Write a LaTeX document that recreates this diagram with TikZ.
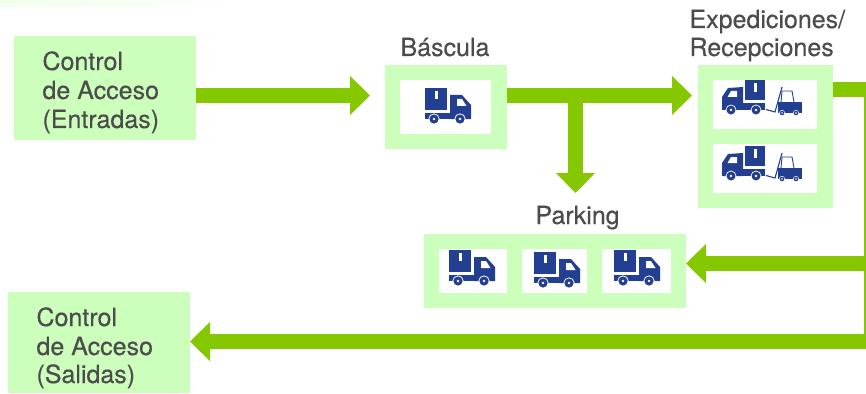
\documentclass[tikz,border=0pt]{standalone}
\usepackage{fontspec}
\setmainfont[FakeBold=0.35,AutoFakeBold=false]{TeX Gyre Heros}
\usetikzlibrary{arrows.meta}
\definecolor{boxgreen}{HTML}{CCFFBB}
\definecolor{flowgreen}{HTML}{85C800}
\definecolor{navy}{HTML}{233F91}
\definecolor{ink}{HTML}{4C4C4C}
\tikzset{
  panel/.style={fill=boxgreen,draw=none,inner sep=0pt,outer sep=0pt},
  slotbox/.style={fill=white,draw=none,inner sep=0pt,outer sep=0pt},
  lbl/.style={text=ink,inner sep=0pt,outer sep=0pt,align=left,font=\fontsize{25}{29}\selectfont},
  flow/.style={draw=flowgreen,line width=15pt,line cap=butt},
  flowtip/.style={flow,-{Triangle[length=20pt,width=38pt]}},
  truckright/.pic={
    \fill[navy] (0,0) rectangle (22,22);
    \fill[white] (10,3) rectangle (13,11);
    \fill[navy] (0,25) rectangle (25,31);
    \fill[navy] (25,7) -- (37,7) -- (46,17) -- (46,31) -- (25,31) -- cycle;
    \fill[white] (32,11) -- (37,11) -- (41.5,18) -- (32,18) -- cycle;
    \foreach \wx in {9,35}{
      \fill[white] (\wx,31) circle (5.6);
      \fill[navy] (\wx,31) circle (4.6);
      \fill[white] (\wx,31) circle (1.3);
    }
  },
  truckfork/.pic={
    \fill[navy] (23,0) rectangle (43,20);
    \fill[white] (32,3) rectangle (35,12);
    \fill[navy] (21,23) rectangle (43,30);
    \fill[navy] (0,17) -- (6,8) -- (21,7) -- (21,30) -- (0,30) -- cycle;
    \fill[white] (5.5,17) -- (9,11) -- (15,11) -- (15,17) -- cycle;
    \foreach \wx in {9,34}{
      \fill[white] (\wx,30) circle (5.4);
      \fill[navy] (\wx,30) circle (4.5);
      \fill[white] (\wx,30) circle (1.3);
    }
    \draw[navy,line width=1.1pt] (44,29.5) -- (53,32) -- (60,7);
    \draw[navy,line width=.9pt] (59,22) -- (60,11) -- (70,11) -- (72,22);
    \fill[navy] (56,22) -- (80,22) -- (80,33) -- (56,33) -- cycle;
    \foreach \wx in {60,74}{
      \fill[white] (\wx,33) circle (3);
      \fill[navy] (\wx,33) circle (2.3);
      \fill[white] (\wx,33) circle (.8);
    }
  }
}
\begin{document}
\begin{tikzpicture}[x=1pt,y=-1pt]
\useasboundingbox (0,0) rectangle (866,393);
\clip (0,0) rectangle (866,393);
\fill[white] (0,0) rectangle (866,393);
\shade[left color=boxgreen!30,right color=white,draw=none] (0,0) rectangle (240,7);

% panels
\node[panel,minimum width=182pt,minimum height=104pt] (entradas) at (105,88) {};
\node[panel,minimum width=122pt,minimum height=84pt] (bascula) at (446,107) {};
\node[panel,minimum width=135pt,minimum height=143pt] (exped) at (765.5,136.5) {};
\node[panel,minimum width=262pt,minimum height=74pt] (parking) at (555,271) {};
\node[panel,minimum width=182pt,minimum height=101pt] (salidas) at (99,342.5) {};

% white slots
\node[slotbox,minimum width=91pt,minimum height=54pt] (slotB) at (445.5,107) {};
\node[slotbox,minimum width=104pt,minimum height=49pt] (slotE1) at (765,104.5) {};
\node[slotbox,minimum width=104pt,minimum height=49pt] (slotE2) at (765,168.5) {};
\node[slotbox,minimum width=68pt,minimum height=44pt] (slotP1) at (473,271) {};
\node[slotbox,minimum width=65pt,minimum height=44pt] (slotP2) at (554.5,271) {};
\node[slotbox,minimum width=69pt,minimum height=44pt] (slotP3) at (636.5,271) {};

% vehicles
\pic at (425,88) {truckright};
\pic at (449,250) {truckright};
\pic at (534,252) {truckright};
\pic at (614,250) {truckright};
\pic at (722,80) {truckfork};
\pic at (722,146) {truckfork};

% labels
\node[lbl,anchor=base west] (t1) at (42.5,70) {Control};
\node[lbl,anchor=base west] (t2) at (42.5,99) {de Acceso};
\node[lbl,anchor=base west] (t3) at (42.5,128) {(Entradas)};
\node[lbl,anchor=base west] (t4) at (36.5,326) {Control};
\node[lbl,anchor=base west] (t5) at (36.5,355) {de Acceso};
\node[lbl,anchor=base west] (t6) at (36.5,383) {(Salidas)};
\node[lbl,anchor=base west] (t7) at (400.5,56) {Báscula};
\node[lbl,anchor=base west] (t8) at (535.5,224) {Parking};
\node[lbl,anchor=base west] (t9) at (689.5,28) {Expediciones/};
\node[lbl,anchor=base west] (t10) at (689.5,56) {Recepciones};

% routing points
\coordinate (rowTop) at (0,95.5);
\coordinate (rowExit) at (0,89.5);
\coordinate (rowPark) at (0,263.5);
\coordinate (rowOut) at (0,341.5);
\coordinate (rail) at (871,0);
\coordinate (branchTop) at (575.5,95.5);
\coordinate (branchEnd) at (575.5,193);

% connectors
\draw[flowtip,shorten >=15pt] (entradas.east |- rowTop) -- (bascula.west |- rowTop);
\draw[flowtip,shorten >=6pt] (bascula.east |- rowTop) -- (exped.west |- rowTop);
\draw[flowtip] (branchTop) -- (branchEnd);
\draw[flow] (exped.east |- rowExit) -- (rail |- rowExit) -- (rail |- rowOut);
\draw[flowtip] (rail |- rowPark) -- (parking.east |- rowPark);
\draw[flowtip] (rail |- rowOut) -- (salidas.east |- rowOut);
\end{tikzpicture}
\end{document}
